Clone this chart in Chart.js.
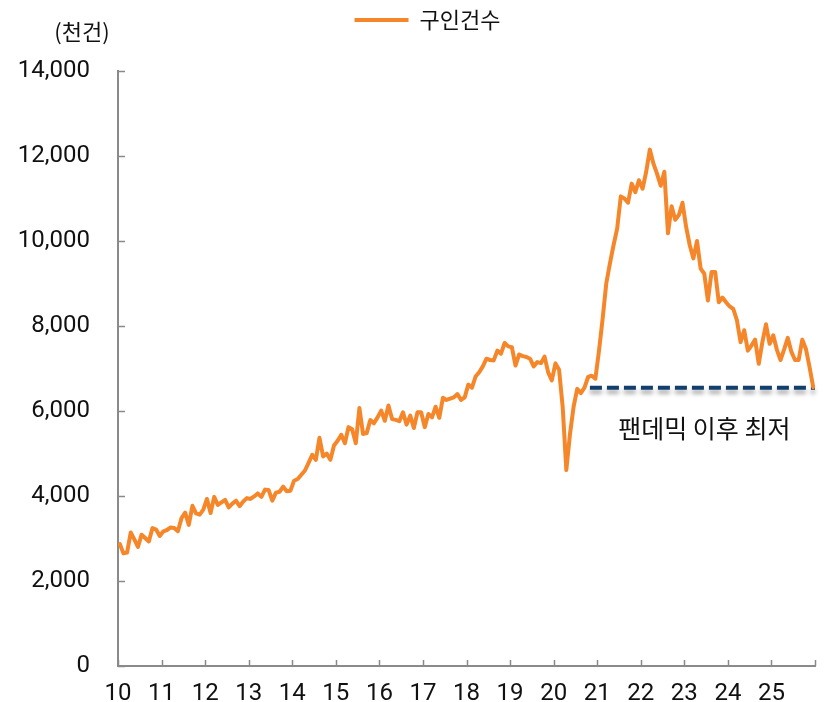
<!DOCTYPE html>
<html><head><meta charset="utf-8">
<script src="https://cdn.jsdelivr.net/npm/chart.js@4.4.1/dist/chart.umd.min.js"></script>
<style>html,body{margin:0;padding:0;background:#fff;}#wrap{width:829px;height:702px;}</style>
</head><body><div id="wrap"><canvas id="c" width="829" height="702"></canvas></div>
<script>
// Job openings (thousands), monthly, Jan 2010 - Dec 2025
const v2010 = [2870, 2650, 2670, 3140, 2980, 2800, 3090, 3010, 2930, 3245, 3210, 3060];
const v2011 = [3170, 3200, 3260, 3245, 3170, 3480, 3610, 3320, 3770, 3590, 3560, 3680];
const v2012 = [3930, 3600, 3980, 3790, 3850, 3910, 3730, 3820, 3890, 3760, 3870, 3950];
const v2013 = [3930, 3990, 4060, 3980, 4150, 4140, 3890, 4080, 4100, 4220, 4110, 4125];
const v2014 = [4360, 4400, 4500, 4600, 4780, 4970, 4850, 5370, 4930, 5000, 4850, 5190];
const v2015 = [5300, 5440, 5240, 5620, 5570, 5240, 6070, 5460, 5480, 5790, 5710, 5850];
const v2016 = [6010, 5770, 6130, 5810, 5790, 5760, 5970, 5680, 5890, 5600, 5970, 5970];
const v2017 = [5620, 5930, 5850, 6100, 5840, 6310, 6260, 6290, 6320, 6400, 6260, 6320];
const v2018 = [6620, 6550, 6810, 6910, 7050, 7230, 7200, 7190, 7420, 7350, 7600, 7520];
const v2019 = [7500, 7070, 7330, 7290, 7270, 7230, 7050, 7150, 7125, 7280, 6910, 6720];
const v2020 = [7120, 6970, 6090, 4610, 5450, 6100, 6520, 6420, 6550, 6800, 6830, 6760];
const v2021 = [7420, 8170, 9000, 9470, 9900, 10290, 11050, 11000, 10900, 11350, 11150, 11430];
const v2022 = [11230, 11630, 12150, 11820, 11580, 11300, 11630, 10180, 10820, 10500, 10610, 10900];
const v2023 = [10330, 9900, 9590, 10000, 9350, 9230, 8600, 9270, 9270, 8560, 8670, 8560];
const v2024 = [8460, 8400, 8130, 7620, 7900, 7420, 7540, 7680, 7110, 7620, 8040, 7580];
const v2025 = [7780, 7440, 7200, 7450, 7720, 7390, 7200, 7200, 7680, 7460, 7030, 6560];

const yearTickLabels = ['10','11','12','13','14','15','16','17','18','19','20','21','22','23','24','25'];
const seriesName = '구인건수';
const unitLabel = '(천건)';
const noteText = '팬데믹 이후 최저';
const pandemicLow = 6550;          // level of the dashed reference line
const lowLineMonths = [130, 192];  // month index span of the dashed line
const noteAnchor = [161.5, 5590];  // month index / value for the note

const jobOpenings = [v2010, v2011, v2012, v2013, v2014, v2015, v2016, v2017,
                     v2018, v2019, v2020, v2021, v2022, v2023, v2024, v2025].flat();
const linePoints = jobOpenings.map((v, i) => ({ x: i + 0.5, y: v }));
const lowPoints = lowLineMonths.map(m => ({ x: m, y: pandemicLow }));

const ORANGE = '#F5872A';
const NAVY = '#133F6E';
const AXIS = '#8a8a8a';
const NUM_FONT = 'Roboto, "Liberation Sans", sans-serif';
const KR_FONT = '"Noto Sans CJK KR", sans-serif';

const legendSpace = {
  id: 'legendSpace',
  beforeInit(chart) {
    const lg = chart.legend;
    if (!lg) return;
    const f = lg.fit;
    lg.fit = function () { f.call(this); this.height = 71; };
    const d = lg.draw;
    lg.draw = function () {
      const c = this.ctx;
      c.save();
      c.translate(18, 0);
      d.call(this);
      c.restore();
    };
  }
};

const shadowLine = {
  id: 'shadowLine',
  beforeDatasetDraw(chart, args) {
    if (args.index !== 1) return;
    const ctx = chart.ctx;
    ctx.save();
    ctx.shadowColor = 'rgba(0,0,0,0.35)';
    ctx.shadowBlur = 4;
    ctx.shadowOffsetY = 4;
  },
  afterDatasetDraw(chart, args) {
    if (args.index !== 1) return;
    chart.ctx.restore();
  }
};

const extras = {
  id: 'extras',
  afterDraw(chart) {
    const ctx = chart.ctx;
    const xs = chart.scales.x, ys = chart.scales.y, a = chart.chartArea;
    ctx.save();
    // inward tick marks
    ctx.strokeStyle = AXIS;
    ctx.lineWidth = 1.5;
    ctx.beginPath();
    ys.ticks.forEach(t => {
      const y = Math.round(ys.getPixelForValue(t.value)) + 0.5;
      ctx.moveTo(a.left, y); ctx.lineTo(a.left + 7, y);
    });
    xs.ticks.forEach(t => {
      const x = Math.round(xs.getPixelForValue(t.value)) + 0.5;
      ctx.moveTo(x, a.bottom); ctx.lineTo(x, a.bottom - 6);
    });
    ctx.stroke();
    // unit label
    ctx.fillStyle = '#111';
    ctx.font = '22px ' + KR_FONT;
    ctx.textAlign = 'center';
    ctx.textBaseline = 'middle';
    ctx.fillText(unitLabel, a.left - 36, a.top - 39);
    // note
    ctx.font = '25px ' + KR_FONT;
    ctx.fillText(noteText, xs.getPixelForValue(noteAnchor[0]), ys.getPixelForValue(noteAnchor[1]));
    ctx.restore();
  }
};

new Chart(document.getElementById('c'), {
  type: 'line',
  data: {
    datasets: [
      {
        label: seriesName,
        data: linePoints,
        borderColor: ORANGE,
        backgroundColor: ORANGE,
        borderWidth: 4,
        pointRadius: 0,
        tension: 0,
        borderJoinStyle: 'round',
        borderCapStyle: 'round',
        clip: false
      },
      {
        label: 'low',
        data: lowPoints,
        borderColor: NAVY,
        backgroundColor: NAVY,
        borderWidth: 4,
        borderDash: [12, 5],
        pointRadius: 0,
        tension: 0,
        clip: false
      }
    ]
  },
  options: {
    responsive: false,
    animation: false,
    layout: { padding: { left: 0, right: 10, top: 0, bottom: 0 } },
    plugins: {
      tooltip: { enabled: false },
      legend: {
        display: true,
        position: 'top',
        labels: {
          boxWidth: 54,
          boxHeight: 4,
          padding: 9,
          color: '#111',
          font: { family: KR_FONT, size: 22 },
          filter: item => item.datasetIndex === 0,
          generateLabels: chart => Chart.defaults.plugins.legend.labels.generateLabels(chart)
            .map(l => Object.assign(l, { lineWidth: 0, fillStyle: ORANGE, strokeStyle: ORANGE }))
        }
      }
    },
    scales: {
      x: {
        type: 'linear',
        min: 0,
        max: 192,
        afterFit: s => { s.height = 36; },
        grid: { display: false, drawTicks: false },
        border: { display: true, color: AXIS, width: 2 },
        ticks: {
          stepSize: 12,
          autoSkip: false,
          maxRotation: 0,
          padding: 14,
          color: '#111',
          font: { family: NUM_FONT, size: 24 },
          callback: v => yearTickLabels[v / 12] || ''
        }
      },
      y: {
        min: 0,
        max: 14000,
        afterFit: s => { s.width = 118; s.paddingTop = 14; s.paddingBottom = 14; },
        grid: { display: false, drawTicks: false },
        border: { display: true, color: AXIS, width: 2 },
        ticks: {
          stepSize: 2000,
          padding: 28,
          color: '#111',
          font: { family: NUM_FONT, size: 24 },
          callback: v => v.toLocaleString('en-US')
        }
      }
    }
  },
  plugins: [legendSpace, shadowLine, extras]
});
</script></body></html>
